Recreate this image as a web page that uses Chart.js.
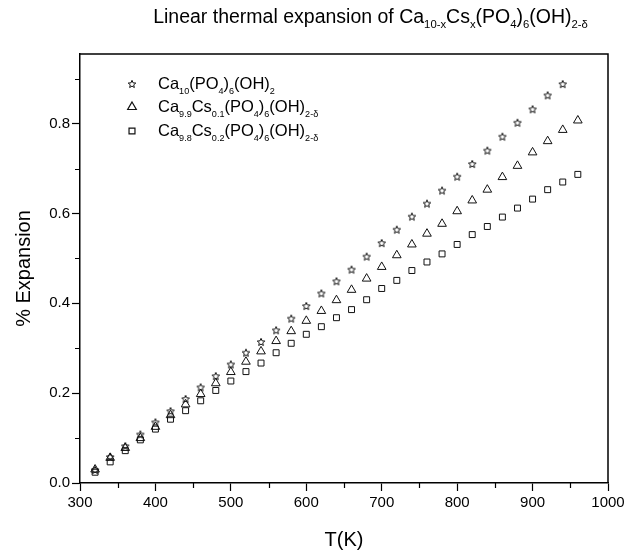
<!DOCTYPE html>
<html>
<head>
<meta charset="utf-8">
<script src="https://cdn.jsdelivr.net/npm/chart.js@4.4.1/dist/chart.umd.min.js"></script>
<style>
  html, body { margin: 0; padding: 0; background: #fff; }
  canvas { display: block; }
</style>
</head>
<body>
<canvas id="chart" width="640" height="554"></canvas>
<script>
// ── Données ──────────────────────────────────────────────────────────
const tempsHap = [320, 340, 360, 380, 400, 420, 440, 460, 480, 500, 520, 540, 560, 580, 600, 620,
                  640, 660, 680, 700, 720, 740, 760, 780, 800, 820, 840, 860, 880, 900, 920, 940];
const tempsCs  = [320, 340, 360, 380, 400, 420, 440, 460, 480, 500, 520, 540, 560, 580, 600, 620,
                  640, 660, 680, 700, 720, 740, 760, 780, 800, 820, 840, 860, 880, 900, 920, 940, 960];

const expHap   = [0.029, 0.058, 0.082, 0.108, 0.135, 0.160, 0.187, 0.213, 0.238, 0.264, 0.290, 0.314,
                  0.340, 0.366, 0.394, 0.422, 0.449, 0.475, 0.504, 0.534, 0.564, 0.593, 0.622, 0.651,
                  0.682, 0.710, 0.740, 0.771, 0.802, 0.832, 0.863, 0.888];
const expCs01  = [0.030, 0.056, 0.078, 0.100, 0.125, 0.151, 0.175, 0.198, 0.222, 0.247, 0.270, 0.293,
                  0.316, 0.338, 0.361, 0.383, 0.407, 0.430, 0.455, 0.481, 0.507, 0.531, 0.555, 0.577,
                  0.605, 0.629, 0.653, 0.681, 0.706, 0.736, 0.761, 0.786, 0.807];
const expCs02  = [0.024, 0.047, 0.072, 0.096, 0.120, 0.142, 0.161, 0.183, 0.206, 0.227, 0.248, 0.267,
                  0.290, 0.311, 0.331, 0.348, 0.368, 0.386, 0.408, 0.433, 0.451, 0.473, 0.492, 0.510,
                  0.531, 0.553, 0.571, 0.592, 0.612, 0.632, 0.653, 0.670, 0.687];

const xMinorTicks = [350, 450, 550, 650, 750, 850, 950];
const yMinorTicks = [0.1, 0.3, 0.5, 0.7, 0.9];

// texte enrichi : [texte, "sub"?]
const titleParts = [["Linear thermal expansion of Ca"], ["10-x", "sub"], ["Cs"], ["x", "sub"],
                    ["(PO"], ["4", "sub"], [")"], ["6", "sub"], ["(OH)"], ["2-δ", "sub"]];
const legendLabels = [
  [["Ca"], ["10", "sub"], ["(PO"], ["4", "sub"], [")"], ["6", "sub"], ["(OH)"], ["2", "sub"]],
  [["Ca"], ["9.9", "sub"], ["Cs"], ["0.1", "sub"], ["(PO"], ["4", "sub"], [")"], ["6", "sub"], ["(OH)"], ["2-δ", "sub"]],
  [["Ca"], ["9.8", "sub"], ["Cs"], ["0.2", "sub"], ["(PO"], ["4", "sub"], [")"], ["6", "sub"], ["(OH)"], ["2-δ", "sub"]],
];

const FONT = "'Liberation Sans', Arial, sans-serif";
const INK = "#111";

// ── Étoile contour (pointStyle image) ────────────────────────────────
function makeStar(size) {
  const c = document.createElement("canvas");
  c.width = size; c.height = size;
  const g = c.getContext("2d");
  const cx = size / 2, cy = size / 2 + 0.3, ro = size / 2 - 1, ri = ro * 0.45;
  g.beginPath();
  for (let i = 0; i < 10; i++) {
    const r = i % 2 ? ri : ro;
    const a = -Math.PI / 2 + i * Math.PI / 5;
    const px = cx + r * Math.cos(a), py = cy + r * Math.sin(a);
    i ? g.lineTo(px, py) : g.moveTo(px, py);
  }
  g.closePath();
  g.strokeStyle = INK;
  g.lineWidth = 1;
  g.stroke();
  return c;
}
const starImg = makeStar(10);

function drawRich(ctx, x, y, parts, size, subScale) {
  let cx = x;
  for (const [txt, kind] of parts) {
    const sub = kind === "sub";
    ctx.font = `${sub ? size * subScale : size}px ${FONT}`;
    ctx.fillText(txt, cx, sub ? y + size * 0.28 : y);
    cx += ctx.measureText(txt).width;
  }
  return cx - x;
}
function richWidth(ctx, parts, size, subScale) {
  let w = 0;
  for (const [txt, kind] of parts) {
    ctx.font = `${kind === "sub" ? size * subScale : size}px ${FONT}`;
    w += ctx.measureText(txt).width;
  }
  return w;
}

// ── Plugin : cadre, ticks mineurs, titre, légende ────────────────────
const decorations = {
  id: "decorations",
  afterDraw(chart) {
    const { ctx, chartArea: a, scales } = chart;
    ctx.save();
    ctx.strokeStyle = "#000";
    ctx.lineWidth = 1.5;
    ctx.beginPath();
    ctx.moveTo(a.left, a.top); ctx.lineTo(a.right, a.top); ctx.lineTo(a.right, a.bottom);
    ctx.stroke();

    ctx.lineWidth = 1.2;
    ctx.beginPath();
    for (const v of xMinorTicks) {
      const px = Math.round(scales.x.getPixelForValue(v)) + 0.5;
      ctx.moveTo(px, a.bottom); ctx.lineTo(px, a.bottom + 5);
    }
    for (const v of yMinorTicks) {
      const py = Math.round(scales.y.getPixelForValue(v)) + 0.5;
      ctx.moveTo(a.left, py); ctx.lineTo(a.left - 5, py);
    }
    ctx.stroke();

    // titre
    ctx.fillStyle = "#000";
    ctx.textBaseline = "alphabetic";
    const tSize = 19.5;
    const tw = richWidth(ctx, titleParts, tSize, 0.58);
    drawRich(ctx, 370.5 - tw / 2, 23, titleParts, tSize, 0.58);

    // légende
    const ds = chart.data.datasets;
    const rows = [84, 107, 131];
    ds.forEach((d, i) => {
      ctx.strokeStyle = INK;
      ctx.fillStyle = "#fff";
      Chart.helpers.drawPoint(ctx, {
        pointStyle: d.pointStyle, radius: d.pointRadius, rotation: 0, borderWidth: d.borderWidth,
      }, 132, rows[i]);
      ctx.fillStyle = "#000";
      drawRich(ctx, 158, rows[i] + 5, legendLabels[i], 16.5, 0.55);
    });
    ctx.restore();
  },
};

const pointDefaults = { showLine: false, borderColor: INK, backgroundColor: "rgba(255,255,255,0)",
                        borderWidth: 1, pointHoverRadius: 5 };

new Chart(document.getElementById("chart"), {
  type: "scatter",
  data: {
    datasets: [
      { ...pointDefaults, label: "x=0",   data: tempsHap.map((t, i) => ({ x: t, y: expHap[i] })),
        pointStyle: starImg, pointRadius: 5 },
      { ...pointDefaults, label: "x=0.1", data: tempsCs.map((t, i) => ({ x: t, y: expCs01[i] })),
        pointStyle: "triangle", pointRadius: 5 },
      { ...pointDefaults, label: "x=0.2", data: tempsCs.map((t, i) => ({ x: t, y: expCs02[i] })),
        pointStyle: "rect", pointRadius: 4.2 },
    ],
  },
  options: {
    responsive: false,
    animation: false,
    layout: { padding: { top: 54, right: 32, left: 0, bottom: 0 } },
    plugins: { legend: { display: false }, tooltip: { enabled: false } },
    scales: {
      x: {
        type: "linear", min: 300, max: 1000,
        afterFit: (s) => { s.height = 71; },
        border: { color: "#000", width: 1.5 },
        grid: { drawOnChartArea: false, tickLength: 8, tickColor: "#000", tickWidth: 1.2 },
        ticks: { stepSize: 100, color: "#000", padding: 3, font: { family: FONT, size: 15 },
                 callback: (v) => String(v) },
        title: { display: true, text: "T(K)", color: "#000", padding: { top: 0, bottom: 2 },
                 font: { family: FONT, size: 20 } },
      },
      y: {
        type: "linear", min: 0, max: 0.955,
        afterFit: (s) => { s.width = 80; },
        border: { color: "#000", width: 1.5 },
        grid: { drawOnChartArea: false, tickLength: 8, tickColor: "#000", tickWidth: 1.2 },
        ticks: { stepSize: 0.2, includeBounds: false, color: "#000", padding: 2,
                 font: { family: FONT, size: 15 }, callback: (v) => v.toFixed(1) },
        title: { display: true, text: "% Expansion", color: "#000", padding: { top: 12, bottom: 0 },
                 font: { family: FONT, size: 20 } },
      },
    },
  },
  plugins: [decorations],
});
</script>
</body>
</html>
